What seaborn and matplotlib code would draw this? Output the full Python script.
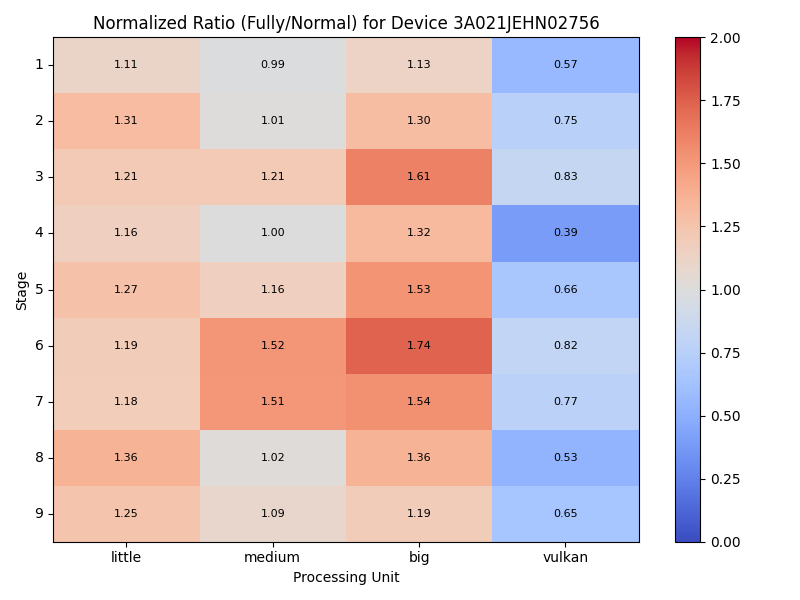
import numpy as np
import pandas as pd
import matplotlib
matplotlib.use("Agg")
import matplotlib.pyplot as plt
import seaborn as sns

units = ["little", "medium", "big", "vulkan"]
stages = [1, 2, 3, 4, 5, 6, 7, 8, 9]
little = [1.11, 1.31, 1.21, 1.16, 1.27, 1.19, 1.18, 1.36, 1.25]
medium = [0.99, 1.01, 1.21, 1.00, 1.16, 1.52, 1.51, 1.02, 1.09]
big = [1.13, 1.30, 1.61, 1.32, 1.53, 1.74, 1.54, 1.36, 1.19]
vulkan = [0.57, 0.75, 0.83, 0.39, 0.66, 0.82, 0.77, 0.53, 0.65]

df = pd.DataFrame({"little": little, "medium": medium, "big": big, "vulkan": vulkan},
                  index=stages)

fig, ax = plt.subplots(figsize=(8, 6), dpi=100)
sns.heatmap(df, cmap="coolwarm", vmin=0, vmax=2, annot=True, fmt=".2f",
            annot_kws={"fontsize": 8, "color": "black"}, ax=ax,
            cbar_kws={"ticks": np.arange(0, 2.01, 0.25), "format": "%.2f"})

for s in ax.spines.values():
    s.set_visible(True)
    s.set_linewidth(0.8)
cb = ax.collections[0].colorbar
cb.outline.set_linewidth(0.8)
cb.outline.set_visible(True)

ax.set_yticklabels(stages, rotation=0)
ax.set_xticklabels(units, rotation=0)
ax.tick_params(axis="both", length=3.5)
ax.set_title("Normalized Ratio (Fully/Normal) for Device 3A021JEHN02756", fontsize=12)
ax.set_xlabel("Processing Unit")
ax.set_ylabel("Stage")

plt.tight_layout()
plt.savefig("out.png")
